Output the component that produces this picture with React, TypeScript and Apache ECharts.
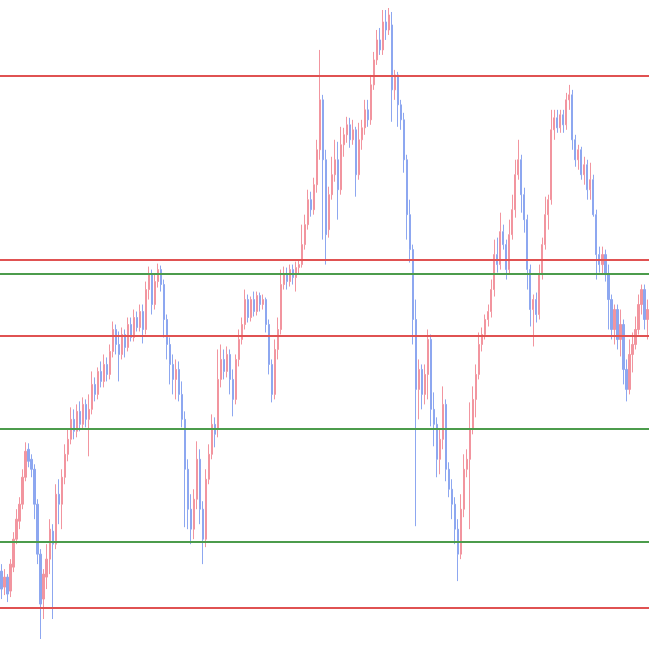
import { useEffect, useRef } from 'react';
import * as echarts from 'echarts';

// [open, close, low, high]
const candles: number[][] = [
  [78, 60, 50, 85], [62, 72, 54, 80], [72, 55, 47, 75], [58, 85, 52, 90], [82, 110, 77, 117],
  [110, 130, 105, 140], [128, 145, 120, 152], [145, 172, 140, 180], [172, 198, 168, 207], [200, 188, 182, 206],
  [190, 180, 172, 195], [180, 145, 130, 185], [145, 95, 85, 150], [95, 45, 10, 100], [50, 75, 30, 80],
  [72, 90, 60, 105], [90, 120, 75, 130], [118, 105, 30, 125], [105, 155, 100, 165], [155, 145, 125, 170],
  [145, 172, 120, 180], [172, 195, 165, 205], [195, 210, 188, 220], [210, 230, 205, 242], [230, 218, 210, 240],
  [218, 238, 212, 245], [238, 225, 218, 248], [225, 245, 220, 252], [245, 230, 222, 250], [230, 240, 193, 255],
  [240, 265, 235, 278], [265, 255, 248, 272], [255, 278, 250, 282], [278, 268, 262, 288], [268, 285, 262, 295],
  [285, 275, 268, 292], [275, 298, 270, 305], [298, 320, 292, 328], [320, 305, 295, 325], [305, 295, 268, 318],
  [295, 315, 290, 322], [315, 302, 292, 320], [302, 325, 298, 332], [325, 312, 308, 332], [312, 332, 308, 340],
  [332, 322, 318, 338], [322, 338, 318, 345], [338, 320, 306, 345], [320, 360, 315, 368], [360, 375, 350, 383],
  [375, 345, 335, 380], [345, 368, 340, 375], [368, 380, 362, 386], [380, 365, 358, 384], [365, 330, 312, 370],
  [330, 305, 290, 335], [305, 285, 265, 312], [285, 270, 255, 295], [270, 280, 250, 290], [280, 255, 248, 288],
  [255, 230, 222, 268], [230, 180, 122, 238], [180, 140, 120, 190], [140, 120, 105, 155], [120, 150, 110, 160],
  [150, 190, 140, 208], [190, 140, 125, 200], [140, 110, 85, 148], [110, 170, 102, 180], [170, 195, 165, 205],
  [195, 225, 190, 235], [225, 215, 202, 232], [220, 270, 212, 300], [270, 290, 262, 305], [290, 278, 270, 300],
  [278, 295, 272, 303], [295, 270, 255, 300], [270, 250, 233, 280], [250, 290, 245, 295], [290, 310, 283, 320],
  [310, 325, 305, 332], [325, 350, 320, 360], [350, 332, 327, 355], [332, 350, 328, 353], [350, 338, 333, 358],
  [338, 354, 334, 358], [354, 345, 338, 357], [345, 350, 340, 355], [350, 325, 317, 352], [325, 285, 275, 330],
  [285, 255, 247, 290], [255, 300, 250, 310], [300, 320, 290, 332], [320, 365, 315, 380], [365, 375, 360, 383],
  [375, 368, 360, 382], [368, 380, 363, 385], [380, 372, 365, 385], [372, 382, 358, 388], [382, 385, 375, 390],
  [385, 405, 382, 425], [405, 425, 400, 435], [425, 450, 420, 460], [450, 440, 433, 458], [440, 465, 435, 472],
  [465, 500, 457, 510], [500, 550, 490, 600], [550, 490, 410, 555], [490, 415, 385, 500], [420, 455, 412, 463],
  [455, 475, 450, 493], [475, 490, 468, 510], [490, 460, 430, 508], [460, 505, 455, 523], [505, 515, 493, 522],
  [515, 525, 507, 533], [525, 510, 502, 532], [510, 520, 505, 530], [520, 475, 453, 523], [475, 510, 470, 527],
  [510, 522, 500, 530], [522, 540, 515, 550], [540, 530, 523, 550], [530, 565, 525, 575], [565, 590, 560, 598],
  [590, 610, 585, 620], [610, 600, 595, 622], [600, 628, 595, 640], [628, 620, 610, 640], [620, 635, 615, 642],
  [625, 560, 528, 638], [560, 575, 550, 580], [575, 545, 523, 578], [545, 530, 520, 550], [530, 490, 477, 537],
  [490, 435, 410, 495], [435, 400, 387, 450], [400, 330, 305, 405], [330, 260, 123, 350], [260, 280, 230, 290],
  [280, 255, 240, 285], [255, 275, 245, 285], [275, 310, 250, 320], [310, 240, 223, 315], [240, 225, 203, 257],
  [225, 190, 172, 232], [190, 210, 175, 220], [210, 245, 200, 263], [245, 180, 168, 250], [180, 160, 152, 187],
  [160, 145, 130, 170], [145, 120, 105, 152], [120, 95, 68, 130], [95, 140, 90, 155], [140, 180, 132, 195],
  [180, 190, 172, 200], [190, 220, 120, 247], [220, 250, 215, 263], [250, 275, 232, 285], [275, 305, 270, 317],
  [305, 315, 298, 322], [315, 330, 310, 335], [330, 338, 323, 345], [338, 360, 332, 370], [360, 395, 353, 410],
  [395, 385, 377, 412], [385, 418, 380, 437], [418, 405, 400, 425], [405, 380, 370, 410], [380, 415, 375, 430],
  [415, 440, 410, 455], [440, 475, 432, 490], [475, 490, 470, 510], [490, 455, 437, 495], [455, 430, 417, 462],
  [430, 380, 360, 435], [380, 340, 323, 385], [340, 350, 303, 355], [350, 335, 327, 357], [335, 375, 330, 385],
  [375, 405, 370, 412], [405, 435, 400, 453], [435, 450, 420, 455], [450, 520, 445, 540], [520, 532, 510, 540],
  [532, 522, 517, 540], [522, 535, 517, 540], [535, 525, 517, 540], [525, 550, 520, 557], [550, 555, 540, 565],
  [555, 510, 500, 560], [510, 490, 483, 515], [490, 500, 480, 505], [500, 475, 470, 503], [475, 485, 465, 493],
  [485, 460, 450, 490], [460, 470, 450, 487], [470, 435, 433, 475], [435, 395, 370, 440], [395, 385, 377, 403],
  [385, 395, 375, 403], [395, 375, 368, 400], [375, 350, 320, 385], [350, 320, 310, 355], [320, 340, 305, 345],
  [340, 310, 300, 345], [310, 325, 293, 340], [325, 280, 265, 330], [280, 260, 248, 290], [260, 295, 255, 310],
  [295, 305, 277, 317], [305, 320, 300, 333], [320, 345, 315, 355], [345, 360, 335, 365], [360, 330, 320, 365],
  [330, 340, 310, 350],
];

const days = candles.map((_, i) => String(i + 1));

const redLevels = [574, 390, 314, 41];
const greenLevels = [376, 221, 107];

const UP = '#f2959f';
const DOWN = '#8da7f0';

export default function App() {
  const ref = useRef<HTMLDivElement>(null);

  useEffect(() => {
    if (!ref.current) return;
    const chart = echarts.init(ref.current, undefined, { renderer: 'svg' });
    chart.setOption({
      animation: false,
      grid: { left: 0, right: 0, top: 0, bottom: 0 },
      xAxis: {
        type: 'category',
        data: days,
        show: false,
        boundaryGap: true,
      },
      yAxis: {
        type: 'value',
        min: 0,
        max: 650,
        show: false,
        splitLine: { show: false },
      },
      series: [
        {
          type: 'candlestick',
          data: candles,
          barWidth: '55%',
          itemStyle: {
            color: UP,
            color0: DOWN,
            borderColor: UP,
            borderColor0: DOWN,
            borderWidth: 1,
          },
          markLine: {
            silent: true,
            symbol: 'none',
            label: { show: false },
            lineStyle: { type: 'solid', width: 2 },
            data: [
              ...redLevels.map((v) => ({ yAxis: v, lineStyle: { color: '#e05252', width: 2, type: 'solid' } })),
              ...greenLevels.map((v) => ({ yAxis: v, lineStyle: { color: '#4c9c4c', width: 2, type: 'solid' } })),
            ],
          },
        },
      ],
    });
    return () => chart.dispose();
  }, []);

  return (
    <div
      ref={ref}
      style={{ position: 'fixed', left: 0, top: 0, width: 649, height: 649 }}
    />
  );
}
